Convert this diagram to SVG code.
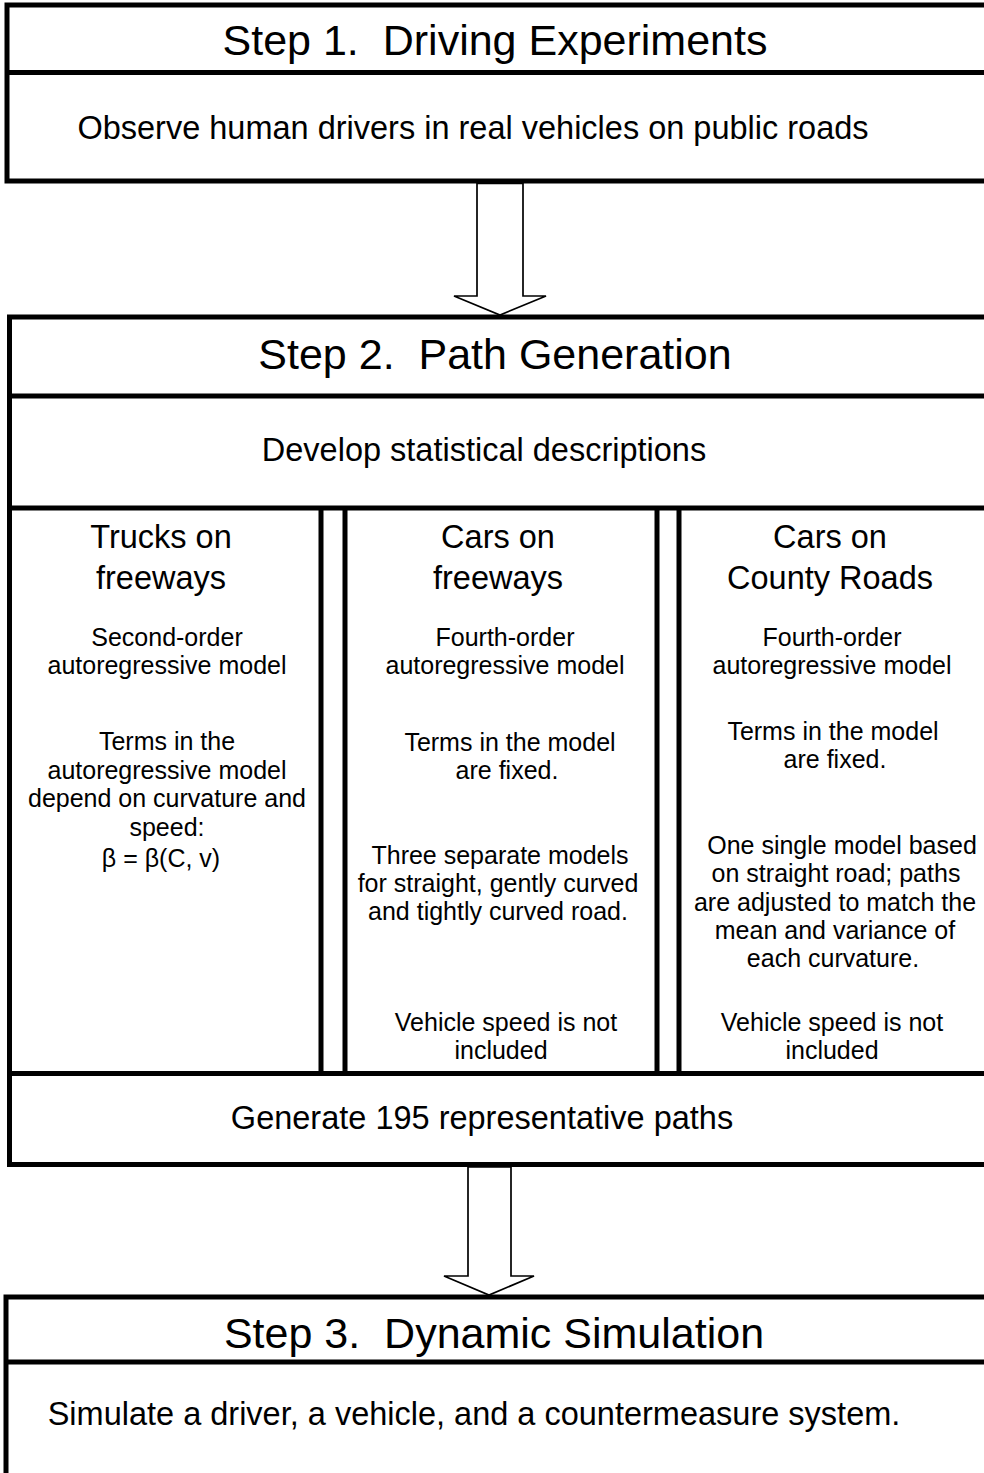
<svg xmlns="http://www.w3.org/2000/svg" width="984" height="1473" viewBox="0 0 984 1473">
<style>
.box{fill:#fff;stroke:#000;stroke-width:5;stroke-linejoin:miter}
.ln{stroke:#000;stroke-width:5;fill:none}
.arr{fill:#fff;stroke:#000;stroke-width:1.7;stroke-linejoin:miter}
text{font-family:"Liberation Sans",Arial,sans-serif;fill:#000;text-anchor:middle}
.t{font-size:43px;white-space:pre}
.m{font-size:32.5px}
.s{font-size:25px}
</style>
<rect width="984" height="1473" fill="#fff"/>
<g id="step1">
<rect class="box" x="7" y="5" width="1000" height="176"/>
<line class="ln" x1="7" y1="72.5" x2="1000" y2="72.5"/>
<text class="t" x="495" y="55" xml:space="preserve">Step 1.  Driving Experiments</text>
<text class="m" x="473" y="139">Observe human drivers in real vehicles on public roads</text>
</g>
<g id="step2">
<rect class="box" x="9.5" y="317" width="1000" height="847.5"/>
<line class="ln" x1="9.5" y1="396" x2="1000" y2="396"/>
<line class="ln" x1="9.5" y1="508" x2="1000" y2="508"/>
<line class="ln" x1="9.5" y1="1073.5" x2="1000" y2="1073.5"/>
<line class="ln" x1="321" y1="508" x2="321" y2="1073.5"/>
<line class="ln" x1="345" y1="508" x2="345" y2="1073.5"/>
<line class="ln" x1="657" y1="508" x2="657" y2="1073.5"/>
<line class="ln" x1="679" y1="508" x2="679" y2="1073.5"/>
<text class="t" x="495" y="369" xml:space="preserve">Step 2.  Path Generation</text>
<text class="m" x="484" y="461">Develop statistical descriptions</text>
<text class="m" x="482" y="1129">Generate 195 representative paths</text>
</g>
<g id="col1">
<text class="m" x="161" y="548">Trucks on</text>
<text class="m" x="161" y="589">freeways</text>
<text class="s" x="167" y="646">Second-order</text>
<text class="s" x="167" y="674">autoregressive model</text>
<text class="s" x="167" y="750">Terms in the</text>
<text class="s" x="167" y="779">autoregressive model</text>
<text class="s" x="167" y="807">depend on curvature and</text>
<text class="s" x="167" y="836">speed:</text>
<text class="s" x="161" y="867">β = β(C, v)</text>
</g>
<g id="col2">
<text class="m" x="498" y="548">Cars on</text>
<text class="m" x="498" y="589">freeways</text>
<text class="s" x="505" y="646">Fourth-order</text>
<text class="s" x="505" y="674">autoregressive model</text>
<text class="s" x="510" y="751">Terms in the model</text>
<text class="s" x="507" y="779">are fixed.</text>
<text class="s" x="500" y="864">Three separate models</text>
<text class="s" x="498" y="892">for straight, gently curved</text>
<text class="s" x="498" y="920">and tightly curved road.</text>
<text class="s" x="506" y="1031">Vehicle speed is not</text>
<text class="s" x="501" y="1059">included</text>
</g>
<g id="col3">
<text class="m" x="830" y="548">Cars on</text>
<text class="m" x="830" y="589">County Roads</text>
<text class="s" x="832" y="646">Fourth-order</text>
<text class="s" x="832" y="674">autoregressive model</text>
<text class="s" x="833" y="740">Terms in the model</text>
<text class="s" x="835" y="768">are fixed.</text>
<text class="s" x="842" y="854">One single model based</text>
<text class="s" x="836" y="882">on straight road; paths</text>
<text class="s" x="835" y="911">are adjusted to match the</text>
<text class="s" x="835" y="939">mean and variance of</text>
<text class="s" x="833" y="967">each curvature.</text>
<text class="s" x="832" y="1031">Vehicle speed is not</text>
<text class="s" x="832" y="1059">included</text>
</g>
<g id="step3">
<rect class="box" x="6" y="1297" width="1000" height="200"/>
<line class="ln" x1="6" y1="1362" x2="1000" y2="1362"/>
<text class="t" x="494" y="1348" xml:space="preserve">Step 3.  Dynamic Simulation</text>
<text class="m" x="474" y="1425">Simulate a driver, a vehicle, and a countermeasure system.</text>
</g>
<g id="connectors">
<polygon class="arr" points="477,183.5 523,183.5 523,296 546,296 500,315 454,296 477,296"/>
<polygon class="arr" points="468,1167 511,1167 511,1276 534,1276 489,1295 444,1276 468,1276"/>
</g>
</svg>
